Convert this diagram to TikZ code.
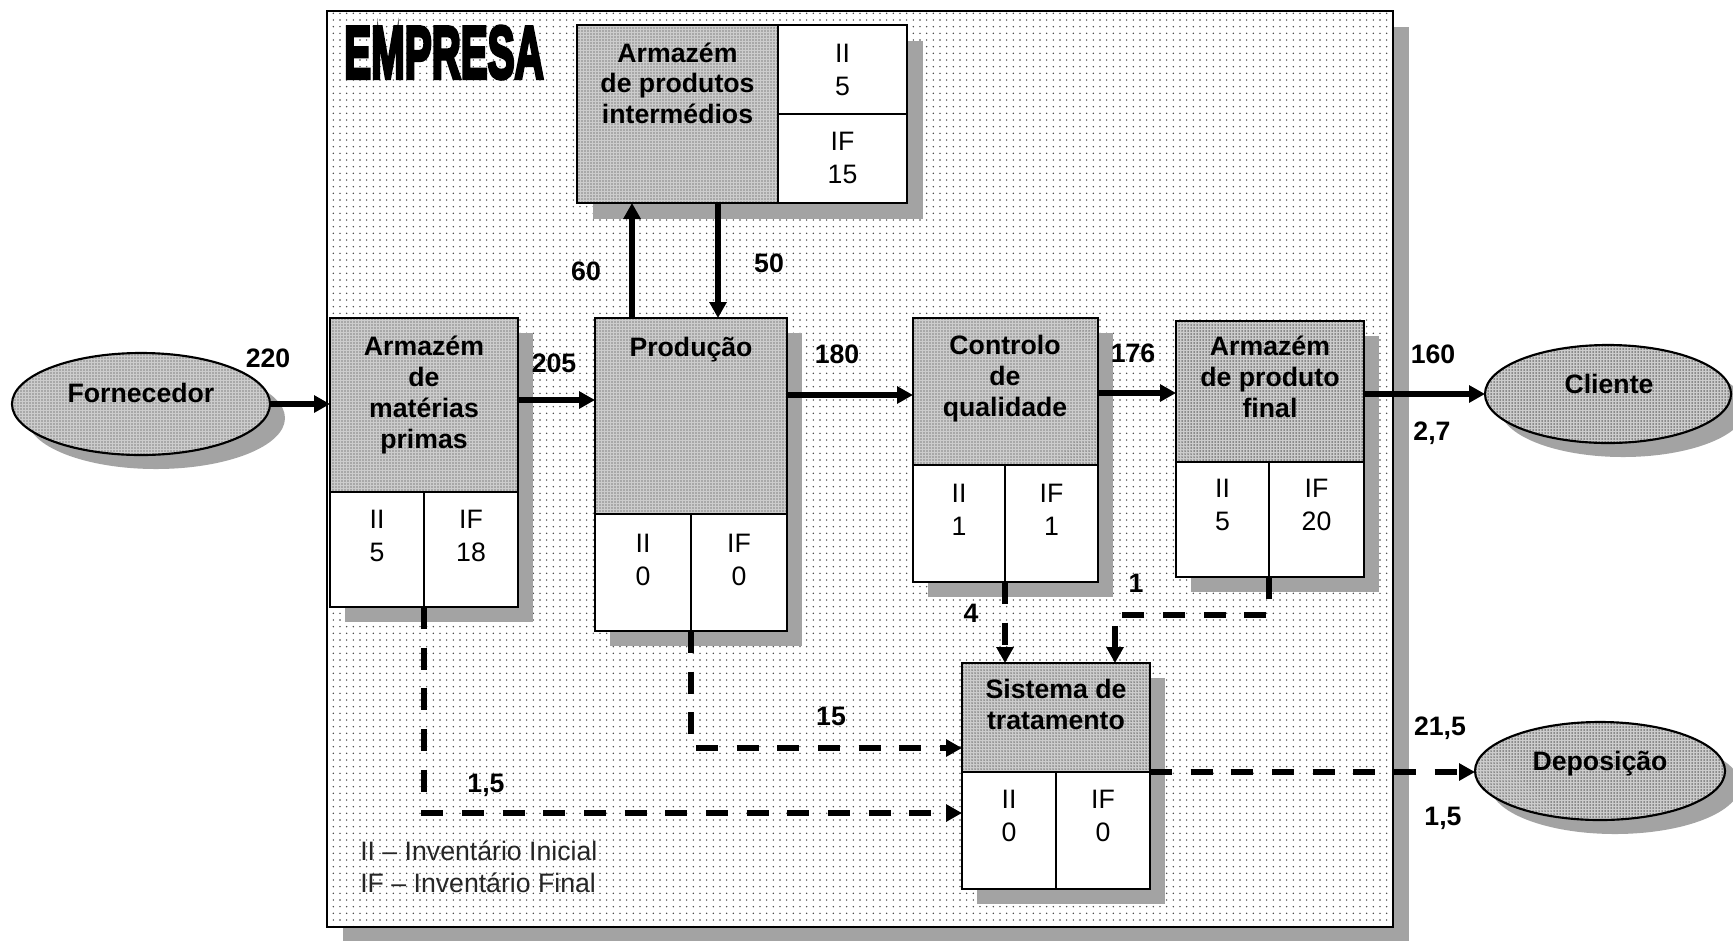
\documentclass[tikz,border=0pt]{standalone}
\usepackage{fontspec}
\setmainfont{Liberation Sans}
\newfontfamily\heavyfont[FakeBold=5.5]{Liberation Sans}
\usepackage{graphicx}
\usetikzlibrary{patterns.meta,shapes.geometric,fit,arrows.meta}

% vertical stack of centred lines, baseline on the first line
\newcommand\stk[1]{\begin{tabular}[t]{@{}c@{}}#1\end{tabular}}

\tikzset{
  dropsh/.style={fill=black!36, draw=none, inner sep=0pt, outer sep=0pt},
  graybox/.style={draw, line width=1.6pt, inner sep=0pt, outer sep=0pt,
    preaction={fill=black!20},
    preaction={pattern={Dots[distance=2.25pt,radius=0.55pt]}, pattern color=black!80}},
  whitebox/.style={draw, line width=1.6pt, fill=white, inner sep=0pt, outer sep=0pt},
  firmbox/.style={draw, line width=1.6pt, inner sep=0pt, outer sep=0pt,
    preaction={fill=white},
    preaction={pattern={Dots[distance=5pt,radius=0.6pt]}, pattern color=black!75}},
  ellbox/.style={graybox, ellipse},
  ellsh/.style={dropsh, ellipse},
  hdr/.style={font=\fontsize{20}{23.25}\selectfont\bfseries, inner sep=0pt, anchor=base},
  inv/.style={font=\fontsize{20}{25}\selectfont, inner sep=0pt, anchor=base},
  qty/.style={font=\fontsize{20}{24}\selectfont\bfseries, inner sep=0pt, anchor=base},
  note/.style={font=\fontsize{20}{24}\selectfont, text=black!85, inner sep=0pt, anchor=base west},
  flow/.style={line width=5pt, -{Triangle[length=12pt,width=12.5pt]}},
  waste/.style={line width=5pt, dash pattern=on 16.5pt off 14pt, -{Triangle[length=12pt,width=12.5pt]}},
}

\begin{document}
\begin{tikzpicture}[x=0.75pt, y=-0.75pt]
\useasboundingbox (0,0) rectangle (1733,940);

% company frame
\node[dropsh, fit={(343,27)(1409,943)}] (firm-sh) {};
\node[firmbox, fit={(327,11)(1393,927)}] (firm) {};
\node[inner sep=0pt, anchor=base] (firm-t) at (444,78)
  {\scalebox{0.545}[1]{\fontsize{55.5}{60}\heavyfont\bfseries EMPRESA}};

% supplier
\node[ellsh, minimum width=193.5pt, minimum height=76.5pt] (forn-sh) at (156,418) {};
\node[ellbox, minimum width=193.5pt, minimum height=76.5pt] (forn) at (141,404) {};
\node[hdr] (forn-t) at (141,402) {Fornecedor};

% client
\node[ellsh, minimum width=184.5pt, minimum height=73.5pt] (cli-sh) at (1623,408) {};
\node[ellbox, minimum width=184.5pt, minimum height=73.5pt] (cli) at (1608,394) {};
\node[hdr] (cli-t) at (1609,393) {Cliente};

% disposal
\node[ellsh, minimum width=187.5pt, minimum height=73.5pt] (dep-sh) at (1615,785) {};
\node[ellbox, minimum width=187.5pt, minimum height=73.5pt] (dep) at (1600,771) {};
\node[hdr] (dep-t) at (1600,770) {Deposição};

% raw material store
\node[dropsh, fit={(345,333)(533,622)}] (amp-sh) {};
\node[graybox, fit={(330,318)(518,492)}] (amp-top) {};
\node[whitebox, fit={(330,492)(424,607)}] (amp-ii) {};
\node[whitebox, fit={(424,492)(518,607)}] (amp-if) {};
\node[hdr] (amp-t) at (424,355) {\stk{Armazém\\de\\matérias\\primas}};
\node[inv] (amp-iv) at (377,528) {\stk{II\\5}};
\node[inv] (amp-fv) at (471,528) {\stk{IF\\18}};

% production
\node[dropsh, fit={(610,333)(802,646)}] (prod-sh) {};
\node[graybox, fit={(595,318)(787,514)}] (prod-top) {};
\node[whitebox, fit={(595,514)(691,631)}] (prod-ii) {};
\node[whitebox, fit={(691,514)(787,631)}] (prod-if) {};
\node[hdr] (prod-t) at (691,356) {Produção};
\node[inv] (prod-iv) at (643,552) {\stk{II\\0}};
\node[inv] (prod-fv) at (739,552) {\stk{IF\\0}};

% intermediate products store
\node[dropsh, fit={(593,41)(923,219)}] (inter-sh) {};
\node[graybox, fit={(577,25)(778,203)}] (inter-top) {};
\node[whitebox, fit={(778,25)(907,114)}] (inter-ii) {};
\node[whitebox, fit={(778,114)(907,203)}] (inter-if) {};
\node[hdr, font=\fontsize{20}{22.9}\selectfont\bfseries] (inter-t) at (677.5,62) {\stk{Armazém\\de produtos\\intermédios}};
\node[inv] (inter-iv) at (842.5,62) {\stk{II\\5}};
\node[inv] (inter-fv) at (842.5,150) {\stk{IF\\15}};

% quality control
\node[dropsh, fit={(928,333)(1113,597)}] (ctrl-sh) {};
\node[graybox, fit={(913,318)(1098,465)}] (ctrl-top) {};
\node[whitebox, fit={(913,465)(1005,582)}] (ctrl-ii) {};
\node[whitebox, fit={(1005,465)(1098,582)}] (ctrl-if) {};
\node[hdr] (ctrl-t) at (1005,354) {\stk{Controlo\\de\\qualidade}};
\node[inv] (ctrl-iv) at (959,502) {\stk{II\\1}};
\node[inv] (ctrl-fv) at (1051.5,502) {\stk{IF\\1}};

% final product store
\node[dropsh, fit={(1191,336)(1379,592)}] (apf-sh) {};
\node[graybox, fit={(1176,321)(1364,462)}] (apf-top) {};
\node[whitebox, fit={(1176,462)(1269,577)}] (apf-ii) {};
\node[whitebox, fit={(1269,462)(1364,577)}] (apf-if) {};
\node[hdr] (apf-t) at (1270,355) {\stk{Armazém\\de produto\\final}};
\node[inv] (apf-iv) at (1222.5,497) {\stk{II\\5}};
\node[inv] (apf-fv) at (1316.5,497) {\stk{IF\\20}};

% treatment system
\node[dropsh, fit={(977,678)(1165,904)}] (sis-sh) {};
\node[graybox, fit={(962,663)(1150,772)}] (sis-top) {};
\node[whitebox, fit={(962,772)(1056,889)}] (sis-ii) {};
\node[whitebox, fit={(1056,772)(1150,889)}] (sis-if) {};
\node[hdr] (sis-t) at (1056,698) {\stk{Sistema de\\tratamento}};
\node[inv] (sis-iv) at (1009,808) {\stk{II\\0}};
\node[inv] (sis-fv) at (1103,808) {\stk{IF\\0}};

% material flows
\draw[flow] (forn.east) -- (forn.east -| amp-top.west);
\draw[flow] (amp-top.east |- 0,400) -- (prod-top.west |- 0,400);
\draw[flow] (prod-top.north -| 632,0) -- (inter-top.south -| 632,0);
\draw[flow] (inter-top.south -| 718,0) -- (prod-top.north -| 718,0);
\draw[flow] (prod-top.east |- 0,395) -- (ctrl-top.west |- 0,395);
\draw[flow] (ctrl-top.east |- 0,393) -- (apf-top.west |- 0,393);
\draw[flow] (apf-top.east |- cli.west) -- (cli.west);

% waste flows
\draw[waste] (ctrl-ii.south east) -- (ctrl-ii.south east |- sis-top.north);
\draw[waste] (apf-ii.south east) |- (1115,615) -- (sis-top.north -| 1115,0);
\draw[waste] (prod-ii.south east) |- (sis-top.west |- 0,748);
\draw[waste] (amp-ii.south east) |- (sis-ii.west |- 0,813);
\draw[waste] (sis-top.south east) -- (sis-top.south east -| dep.west);

% quantities
\node[qty] (q220) at (268,367) {220};
\node[qty] (q205) at (554,372) {205};
\node[qty] (q60) at (586,280) {60};
\node[qty] (q50) at (769,272) {50};
\node[qty] (q180) at (837,363) {180};
\node[qty] (q176) at (1133,362) {176};
\node[qty] (q160) at (1433,363) {160};
\node[qty] (q27) at (1432,440) {2,7};
\node[qty] (q4) at (971,622) {4};
\node[qty] (q1) at (1136,592) {1};
\node[qty] (q15) at (831,725) {15};
\node[qty] (q15b) at (486,792) {1,5};
\node[qty] (q215) at (1440,735) {21,5};
\node[qty] (q15c) at (1443,825) {1,5};

% legend
\node[note] (leg1) at (360,860) {II – Inventário Inicial};
\node[note] (leg2) at (360,892) {IF – Inventário Final};
\end{tikzpicture}
\end{document}
